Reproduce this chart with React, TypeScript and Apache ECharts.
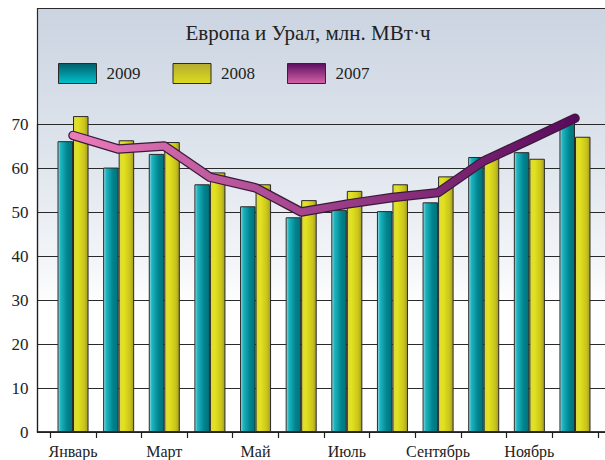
import React, { useEffect, useRef } from "react";
import * as echarts from "echarts";

const months = ["Январь", "Февраль", "Март", "Апрель", "Май", "Июнь", "Июль", "Август", "Сентябрь", "Октябрь", "Ноябрь", "Декабрь"];
const values2009 = [66.1, 60.1, 63.2, 56.3, 51.3, 48.8, 50.5, 50.2, 52.2, 62.5, 63.6, 70.5];
const values2008 = [71.8, 66.3, 65.9, 59.0, 56.3, 52.7, 54.8, 56.3, 58.1, 62.8, 62.1, 67.1];
const values2007 = [67.4, 64.3, 65.0, 57.9, 55.5, 50.0, 51.8, 53.3, 54.4, 61.6, 66.4, 71.3];
const seriesNames = ["2009", "2008", "2007"];
const titleText = "Европа и Урал, млн. МВт·ч";

const FONT = "'Liberation Serif', 'DejaVu Serif', serif";
const INK = "#222222";

function lin(x2: number, y2: number, stops: [number, string][]) {
  return {
    type: "linear",
    x: 0,
    y: 0,
    x2,
    y2,
    colorStops: stops.map(([offset, color]) => ({ offset, color })),
  };
}

export default function App() {
  const ref = useRef<HTMLDivElement>(null);

  useEffect(() => {
    if (!ref.current) return;
    const chart = echarts.init(ref.current, undefined, { renderer: "svg" });

    const tealBar = lin(1, 0, [
      [0, "#a4dbe2"],
      [0.18, "#1cb6c1"],
      [0.65, "#00838d"],
      [1, "#00727b"],
    ]);
    const yellowBar = lin(1, 0, [
      [0, "#d9d94a"],
      [0.3, "#e3e21c"],
      [0.75, "#c9c41e"],
      [1, "#a39c22"],
    ]);
    const lineGrad = lin(1, 0, [
      [0, "#ea7cba"],
      [0.45, "#a5468f"],
      [1, "#5a0a5c"],
    ]);

    const option: any = {
      animation: false,
      graphic: [
        {
          type: "rect",
          z: -10,
          silent: true,
          shape: { x: 37.5, y: 8.5, width: 590, height: 423.5 },
          style: {
            fill: lin(0, 1, [
              [0, "#cbd4e1"],
              [0.35, "#dfe5ed"],
              [0.6, "#f3f5f8"],
              [0.7, "#ffffff"],
              [1, "#ffffff"],
            ]),
            stroke: "#2a2a2a",
            lineWidth: 1.2,
          },
        },
        {
          type: "text",
          z: 10,
          style: {
            text: titleText,
            x: 308,
            y: 33,
            textAlign: "center",
            textVerticalAlign: "middle",
            fill: INK,
            fontSize: 21,
            fontFamily: FONT,
          },
        },
      ],
      legend: {
        left: 58,
        top: 63,
        padding: 0,
        itemWidth: 38,
        itemHeight: 20,
        itemGap: 32,
        selectedMode: false,
        textStyle: { color: INK, fontSize: 17, fontFamily: FONT, padding: [0, 0, 0, 5] },
        data: [
          {
            name: seriesNames[0],
            icon: "rect",
            itemStyle: { color: lin(0, 1, [[0, "#005e6b"], [1, "#00c3cb"]]), borderColor: "#2a2a2a", borderWidth: 1 },
          },
          {
            name: seriesNames[1],
            icon: "rect",
            itemStyle: { color: lin(0, 1, [[0, "#b5ab30"], [1, "#dcdc1e"]]), borderColor: "#2a2a2a", borderWidth: 1 },
          },
          {
            name: seriesNames[2],
            icon: "rect",
            itemStyle: { color: lin(0, 1, [[0, "#5c0e60"], [1, "#d563a7"]]), borderColor: "#2a2a2a", borderWidth: 1 },
          },
        ],
      },
      grid: [
        { left: 37.5, right: 0, top: 124, bottom: 28 },
        { left: 50.2, right: 7.2, top: 124, bottom: 28 },
      ],
      xAxis: [
        {
          gridIndex: 0,
          type: "value",
          min: 0,
          max: 1,
          axisLine: { show: true, lineStyle: { color: "#1e1e1e", width: 1.5 } },
          axisTick: { show: false },
          axisLabel: { show: false },
          splitLine: { show: false },
        },
        {
          gridIndex: 1,
          type: "category",
          data: months,
          axisLine: { show: false },
          axisTick: { show: true, interval: 0, length: 6, lineStyle: { color: "#1e1e1e", width: 1.2 } },
          axisLabel: { interval: 1, margin: 11, color: INK, fontSize: 16, fontFamily: FONT },
          splitLine: { show: false },
        },
      ],
      yAxis: [
        {
          gridIndex: 0,
          type: "value",
          min: 0,
          max: 70,
          interval: 10,
          axisLine: { show: true, lineStyle: { color: "#1e1e1e", width: 1.2 } },
          axisTick: { show: false },
          axisLabel: { margin: 9, color: INK, fontSize: 17, fontFamily: FONT },
          splitLine: { show: true, lineStyle: { color: "#2a2a2a", width: 1 } },
        },
        {
          gridIndex: 1,
          type: "value",
          min: 0,
          max: 70,
          interval: 10,
          show: false,
          splitLine: { show: false },
        },
      ],
      series: [
        {
          name: seriesNames[0],
          type: "bar",
          xAxisIndex: 1,
          yAxisIndex: 1,
          data: values2009,
          clip: false,
          barGap: "0%",
          barCategoryGap: "32%",
          itemStyle: { color: tealBar, borderColor: "#2a2a2a", borderWidth: 1 },
          z: 2,
        },
        {
          name: seriesNames[1],
          type: "bar",
          xAxisIndex: 1,
          yAxisIndex: 1,
          data: values2008,
          clip: false,
          barGap: "0%",
          barCategoryGap: "32%",
          itemStyle: { color: yellowBar, borderColor: "#2a2a2a", borderWidth: 1 },
          z: 2,
        },
        {
          name: "2007-outline",
          type: "line",
          xAxisIndex: 1,
          yAxisIndex: 1,
          data: values2007,
          clip: false,
          symbol: "none",
          silent: true,
          lineStyle: { color: "#3a1a3a", width: 9.5, cap: "round", join: "round" },
          z: 3,
        },
        {
          name: seriesNames[2],
          type: "line",
          xAxisIndex: 1,
          yAxisIndex: 1,
          data: values2007,
          clip: false,
          symbol: "none",
          lineStyle: { color: lineGrad, width: 7, cap: "round", join: "round" },
          itemStyle: { color: "#a5468f" },
          z: 4,
        },
      ],
    };

    chart.setOption(option);
    return () => chart.dispose();
  }, []);

  return (
    <div
      ref={ref}
      style={{ position: "fixed", left: 0, top: 0, width: 605, height: 460, background: "#ffffff" }}
    />
  );
}
